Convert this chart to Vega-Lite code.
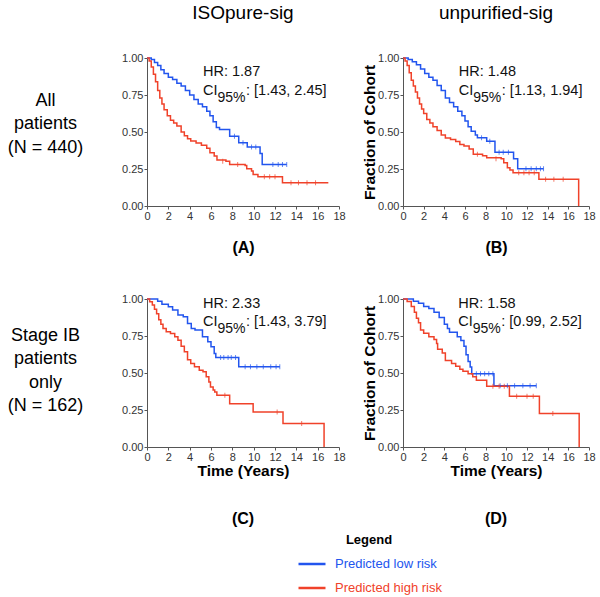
{
  "$schema": "https://vega.github.io/schema/vega-lite/v6.json",
  "background": "white",
  "padding": {"left": 7, "top": 4, "right": 5, "bottom": 5},
  "config": {
    "font": "Liberation Sans",
    "view": {"stroke": null},
    "axis": {"grid": false, "domainColor": "#555", "tickColor": "#555", "labelColor": "#333", "labelFontSize": 11, "tickSize": 3, "labelPadding": 1, "labelOverlap": false, "labelSeparation": 0, "labelFlush": false, "titleColor": "#000", "labelFont": "Liberation Sans", "titleFont": "Liberation Sans"},
    "title": {"font": "Liberation Sans", "color": "#000"},
    "legend": {"labelFont": "Liberation Sans", "titleFont": "Liberation Sans"}
  },
  "datasets": {
    "kmA": [
      {"g":"Predicted low risk","t":0,"s":1},{"g":"Predicted low risk","t":0.4,"s":0.99},{"g":"Predicted low risk","t":0.7,"s":0.97},{"g":"Predicted low risk","t":1.0,"s":0.95},{"g":"Predicted low risk","t":1.3,"s":0.92},{"g":"Predicted low risk","t":1.6,"s":0.895},{"g":"Predicted low risk","t":2.0,"s":0.87},{"g":"Predicted low risk","t":2.4,"s":0.855},{"g":"Predicted low risk","t":2.8,"s":0.83},{"g":"Predicted low risk","t":3.2,"s":0.81},{"g":"Predicted low risk","t":3.6,"s":0.78},{"g":"Predicted low risk","t":4.0,"s":0.75},{"g":"Predicted low risk","t":4.4,"s":0.72},{"g":"Predicted low risk","t":4.8,"s":0.69},{"g":"Predicted low risk","t":5.2,"s":0.67},{"g":"Predicted low risk","t":5.6,"s":0.64},{"g":"Predicted low risk","t":5.9,"s":0.61},{"g":"Predicted low risk","t":6.2,"s":0.57},{"g":"Predicted low risk","t":6.5,"s":0.53},{"g":"Predicted low risk","t":6.8,"s":0.517},{"g":"Predicted low risk","t":7.75,"s":0.472},{"g":"Predicted low risk","t":8.6,"s":0.427},{"g":"Predicted low risk","t":9.4,"s":0.398},{"g":"Predicted low risk","t":10.6,"s":0.355},{"g":"Predicted low risk","t":10.8,"s":0.281},{"g":"Predicted low risk","t":13.1,"s":0.281},
      {"g":"Predicted high risk","t":0,"s":1},{"g":"Predicted high risk","t":0.2,"s":0.98},{"g":"Predicted high risk","t":0.4,"s":0.94},{"g":"Predicted high risk","t":0.6,"s":0.89},{"g":"Predicted high risk","t":0.8,"s":0.84},{"g":"Predicted high risk","t":1.0,"s":0.78},{"g":"Predicted high risk","t":1.2,"s":0.73},{"g":"Predicted high risk","t":1.4,"s":0.69},{"g":"Predicted high risk","t":1.6,"s":0.65},{"g":"Predicted high risk","t":1.9,"s":0.61},{"g":"Predicted high risk","t":2.2,"s":0.58},{"g":"Predicted high risk","t":2.5,"s":0.56},{"g":"Predicted high risk","t":2.8,"s":0.54},{"g":"Predicted high risk","t":3.2,"s":0.5},{"g":"Predicted high risk","t":3.5,"s":0.475},{"g":"Predicted high risk","t":3.8,"s":0.455},{"g":"Predicted high risk","t":4.1,"s":0.44},{"g":"Predicted high risk","t":4.6,"s":0.425},{"g":"Predicted high risk","t":5.1,"s":0.41},{"g":"Predicted high risk","t":5.6,"s":0.39},{"g":"Predicted high risk","t":5.9,"s":0.36},{"g":"Predicted high risk","t":6.3,"s":0.337},{"g":"Predicted high risk","t":6.56,"s":0.31},{"g":"Predicted high risk","t":7.4,"s":0.303},{"g":"Predicted high risk","t":7.75,"s":0.281},{"g":"Predicted high risk","t":9.2,"s":0.274},{"g":"Predicted high risk","t":9.35,"s":0.252},{"g":"Predicted high risk","t":9.8,"s":0.236},{"g":"Predicted high risk","t":9.95,"s":0.213},{"g":"Predicted high risk","t":10.4,"s":0.198},{"g":"Predicted high risk","t":12.7,"s":0.157},{"g":"Predicted high risk","t":17,"s":0.157}
    ],
    "cenA": [
      {"g":"Predicted low risk","t":8.2,"s":0.472},{"g":"Predicted low risk","t":9.0,"s":0.427},{"g":"Predicted low risk","t":9.8,"s":0.398},{"g":"Predicted low risk","t":10.2,"s":0.398},{"g":"Predicted low risk","t":11.8,"s":0.281},{"g":"Predicted low risk","t":12.3,"s":0.281},{"g":"Predicted low risk","t":12.7,"s":0.281},{"g":"Predicted low risk","t":13.1,"s":0.281},
      {"g":"Predicted high risk","t":7.1,"s":0.303},{"g":"Predicted high risk","t":8.5,"s":0.281},{"g":"Predicted high risk","t":11.0,"s":0.198},{"g":"Predicted high risk","t":11.5,"s":0.198},{"g":"Predicted high risk","t":12.0,"s":0.198},{"g":"Predicted high risk","t":13.5,"s":0.157},{"g":"Predicted high risk","t":14.2,"s":0.157},{"g":"Predicted high risk","t":15.0,"s":0.157},{"g":"Predicted high risk","t":15.8,"s":0.157}
    ],
    "annA": [
      {"k":"hr","t":5.25,"s":0.876,"txt":"HR: 1.87"},{"k":"ci","t":5.25,"s":0.753,"txt":"CI"},{"k":"sub","t":5.25,"s":0.706,"txt":"95%"},{"k":"rest","t":5.25,"s":0.753,"txt":": [1.43, 2.45]"}
    ],
    "kmB": [
      {"g":"Predicted low risk","t":0,"s":1},{"g":"Predicted low risk","t":0.5,"s":0.99},{"g":"Predicted low risk","t":0.9,"s":0.975},{"g":"Predicted low risk","t":1.3,"s":0.955},{"g":"Predicted low risk","t":1.7,"s":0.925},{"g":"Predicted low risk","t":2.1,"s":0.895},{"g":"Predicted low risk","t":2.5,"s":0.87},{"g":"Predicted low risk","t":2.9,"s":0.85},{"g":"Predicted low risk","t":3.3,"s":0.815},{"g":"Predicted low risk","t":3.7,"s":0.78},{"g":"Predicted low risk","t":4.1,"s":0.73},{"g":"Predicted low risk","t":4.5,"s":0.7},{"g":"Predicted low risk","t":4.9,"s":0.67},{"g":"Predicted low risk","t":5.3,"s":0.64},{"g":"Predicted low risk","t":5.7,"s":0.61},{"g":"Predicted low risk","t":6.0,"s":0.575},{"g":"Predicted low risk","t":6.3,"s":0.535},{"g":"Predicted low risk","t":6.6,"s":0.505},{"g":"Predicted low risk","t":7.0,"s":0.48},{"g":"Predicted low risk","t":7.2,"s":0.461},{"g":"Predicted low risk","t":8.1,"s":0.438},{"g":"Predicted low risk","t":8.9,"s":0.364},{"g":"Predicted low risk","t":10.7,"s":0.319},{"g":"Predicted low risk","t":11.1,"s":0.252},{"g":"Predicted low risk","t":13.6,"s":0.252},
      {"g":"Predicted high risk","t":0,"s":1},{"g":"Predicted high risk","t":0.2,"s":0.98},{"g":"Predicted high risk","t":0.4,"s":0.95},{"g":"Predicted high risk","t":0.6,"s":0.9},{"g":"Predicted high risk","t":0.8,"s":0.85},{"g":"Predicted high risk","t":1.0,"s":0.81},{"g":"Predicted high risk","t":1.2,"s":0.77},{"g":"Predicted high risk","t":1.4,"s":0.73},{"g":"Predicted high risk","t":1.6,"s":0.69},{"g":"Predicted high risk","t":1.8,"s":0.655},{"g":"Predicted high risk","t":2.0,"s":0.625},{"g":"Predicted high risk","t":2.3,"s":0.585},{"g":"Predicted high risk","t":2.6,"s":0.56},{"g":"Predicted high risk","t":2.9,"s":0.535},{"g":"Predicted high risk","t":3.3,"s":0.51},{"g":"Predicted high risk","t":3.7,"s":0.48},{"g":"Predicted high risk","t":4.1,"s":0.46},{"g":"Predicted high risk","t":4.6,"s":0.45},{"g":"Predicted high risk","t":5.1,"s":0.435},{"g":"Predicted high risk","t":5.5,"s":0.415},{"g":"Predicted high risk","t":5.9,"s":0.405},{"g":"Predicted high risk","t":6.4,"s":0.385},{"g":"Predicted high risk","t":6.8,"s":0.35},{"g":"Predicted high risk","t":7.7,"s":0.34},{"g":"Predicted high risk","t":8.1,"s":0.326},{"g":"Predicted high risk","t":9.5,"s":0.319},{"g":"Predicted high risk","t":9.75,"s":0.292},{"g":"Predicted high risk","t":10.1,"s":0.258},{"g":"Predicted high risk","t":10.35,"s":0.243},{"g":"Predicted high risk","t":10.65,"s":0.225},{"g":"Predicted high risk","t":13.15,"s":0.18},{"g":"Predicted high risk","t":17,"s":0}
    ],
    "cenB": [
      {"g":"Predicted low risk","t":7.6,"s":0.461},{"g":"Predicted low risk","t":8.4,"s":0.438},{"g":"Predicted low risk","t":9.3,"s":0.364},{"g":"Predicted low risk","t":9.7,"s":0.364},{"g":"Predicted low risk","t":10.2,"s":0.364},{"g":"Predicted low risk","t":11.9,"s":0.252},{"g":"Predicted low risk","t":12.4,"s":0.252},{"g":"Predicted low risk","t":12.9,"s":0.252},{"g":"Predicted low risk","t":13.3,"s":0.252},{"g":"Predicted low risk","t":13.6,"s":0.252},
      {"g":"Predicted high risk","t":7.2,"s":0.35},{"g":"Predicted high risk","t":9.0,"s":0.319},{"g":"Predicted high risk","t":11.2,"s":0.225},{"g":"Predicted high risk","t":11.7,"s":0.225},{"g":"Predicted high risk","t":12.2,"s":0.225},{"g":"Predicted high risk","t":12.7,"s":0.225},{"g":"Predicted high risk","t":13.8,"s":0.18},{"g":"Predicted high risk","t":14.6,"s":0.18},{"g":"Predicted high risk","t":15.5,"s":0.18}
    ],
    "annB": [
      {"k":"hr","t":5.4,"s":0.876,"txt":"HR: 1.48"},{"k":"ci","t":5.4,"s":0.753,"txt":"CI"},{"k":"sub","t":5.4,"s":0.706,"txt":"95%"},{"k":"rest","t":5.4,"s":0.753,"txt":": [1.13, 1.94]"}
    ],
    "kmC": [
      {"g":"Predicted low risk","t":0,"s":1},{"g":"Predicted low risk","t":1.0,"s":0.985},{"g":"Predicted low risk","t":1.4,"s":0.965},{"g":"Predicted low risk","t":2.0,"s":0.948},{"g":"Predicted low risk","t":2.4,"s":0.926},{"g":"Predicted low risk","t":2.9,"s":0.892},{"g":"Predicted low risk","t":3.4,"s":0.88},{"g":"Predicted low risk","t":3.8,"s":0.835},{"g":"Predicted low risk","t":4.15,"s":0.8},{"g":"Predicted low risk","t":4.5,"s":0.79},{"g":"Predicted low risk","t":5.2,"s":0.745},{"g":"Predicted low risk","t":5.7,"s":0.711},{"g":"Predicted low risk","t":6.0,"s":0.677},{"g":"Predicted low risk","t":6.3,"s":0.632},{"g":"Predicted low risk","t":6.45,"s":0.605},{"g":"Predicted low risk","t":8.6,"s":0.542},{"g":"Predicted low risk","t":12.45,"s":0.542},
      {"g":"Predicted high risk","t":0,"s":1},{"g":"Predicted high risk","t":0.25,"s":0.982},{"g":"Predicted high risk","t":0.5,"s":0.96},{"g":"Predicted high risk","t":0.7,"s":0.93},{"g":"Predicted high risk","t":0.9,"s":0.9},{"g":"Predicted high risk","t":1.1,"s":0.86},{"g":"Predicted high risk","t":1.3,"s":0.83},{"g":"Predicted high risk","t":1.5,"s":0.8},{"g":"Predicted high risk","t":1.8,"s":0.778},{"g":"Predicted high risk","t":2.2,"s":0.767},{"g":"Predicted high risk","t":2.6,"s":0.745},{"g":"Predicted high risk","t":2.9,"s":0.722},{"g":"Predicted high risk","t":3.2,"s":0.68},{"g":"Predicted high risk","t":3.5,"s":0.643},{"g":"Predicted high risk","t":3.8,"s":0.59},{"g":"Predicted high risk","t":4.1,"s":0.564},{"g":"Predicted high risk","t":4.45,"s":0.542},{"g":"Predicted high risk","t":4.9,"s":0.519},{"g":"Predicted high risk","t":5.25,"s":0.508},{"g":"Predicted high risk","t":5.55,"s":0.474},{"g":"Predicted high risk","t":5.8,"s":0.44},{"g":"Predicted high risk","t":5.95,"s":0.406},{"g":"Predicted high risk","t":6.2,"s":0.385},{"g":"Predicted high risk","t":6.35,"s":0.372},{"g":"Predicted high risk","t":6.55,"s":0.35},{"g":"Predicted high risk","t":7.75,"s":0.293},{"g":"Predicted high risk","t":9.95,"s":0.237},{"g":"Predicted high risk","t":12.75,"s":0.158},{"g":"Predicted high risk","t":16.6,"s":0}
    ],
    "cenC": [
      {"g":"Predicted low risk","t":6.9,"s":0.605},{"g":"Predicted low risk","t":7.2,"s":0.605},{"g":"Predicted low risk","t":7.6,"s":0.605},{"g":"Predicted low risk","t":7.9,"s":0.605},{"g":"Predicted low risk","t":8.3,"s":0.605},{"g":"Predicted low risk","t":9.2,"s":0.542},{"g":"Predicted low risk","t":9.7,"s":0.542},{"g":"Predicted low risk","t":10.3,"s":0.542},{"g":"Predicted low risk","t":10.9,"s":0.542},{"g":"Predicted low risk","t":11.6,"s":0.542},{"g":"Predicted low risk","t":12.1,"s":0.542},{"g":"Predicted low risk","t":12.45,"s":0.542},
      {"g":"Predicted high risk","t":7.3,"s":0.35},{"g":"Predicted high risk","t":12.2,"s":0.237},{"g":"Predicted high risk","t":14.5,"s":0.158}
    ],
    "annC": [
      {"k":"hr","t":5.25,"s":0.937,"txt":"HR: 2.33"},{"k":"ci","t":5.25,"s":0.817,"txt":"CI"},{"k":"sub","t":5.25,"s":0.772,"txt":"95%"},{"k":"rest","t":5.25,"s":0.817,"txt":": [1.43, 3.79]"}
    ],
    "kmD": [
      {"g":"Predicted low risk","t":0,"s":1},{"g":"Predicted low risk","t":1.0,"s":0.985},{"g":"Predicted low risk","t":1.5,"s":0.972},{"g":"Predicted low risk","t":2.0,"s":0.95},{"g":"Predicted low risk","t":2.5,"s":0.935},{"g":"Predicted low risk","t":3.0,"s":0.91},{"g":"Predicted low risk","t":3.5,"s":0.875},{"g":"Predicted low risk","t":4.0,"s":0.83},{"g":"Predicted low risk","t":4.3,"s":0.8},{"g":"Predicted low risk","t":4.5,"s":0.775},{"g":"Predicted low risk","t":5.25,"s":0.745},{"g":"Predicted low risk","t":5.6,"s":0.72},{"g":"Predicted low risk","t":5.9,"s":0.68},{"g":"Predicted low risk","t":6.1,"s":0.623},{"g":"Predicted low risk","t":6.3,"s":0.578},{"g":"Predicted low risk","t":6.5,"s":0.54},{"g":"Predicted low risk","t":6.65,"s":0.495},{"g":"Predicted low risk","t":8.8,"s":0.414},{"g":"Predicted low risk","t":12.9,"s":0.414},
      {"g":"Predicted high risk","t":0,"s":1},{"g":"Predicted high risk","t":0.4,"s":0.983},{"g":"Predicted high risk","t":0.8,"s":0.95},{"g":"Predicted high risk","t":1.1,"s":0.91},{"g":"Predicted high risk","t":1.3,"s":0.87},{"g":"Predicted high risk","t":1.5,"s":0.84},{"g":"Predicted high risk","t":1.7,"s":0.79},{"g":"Predicted high risk","t":2.0,"s":0.768},{"g":"Predicted high risk","t":2.5,"s":0.745},{"g":"Predicted high risk","t":3.0,"s":0.727},{"g":"Predicted high risk","t":3.25,"s":0.7},{"g":"Predicted high risk","t":3.35,"s":0.66},{"g":"Predicted high risk","t":3.8,"s":0.635},{"g":"Predicted high risk","t":4.1,"s":0.585},{"g":"Predicted high risk","t":4.7,"s":0.565},{"g":"Predicted high risk","t":5.1,"s":0.545},{"g":"Predicted high risk","t":5.5,"s":0.525},{"g":"Predicted high risk","t":5.8,"s":0.512},{"g":"Predicted high risk","t":6.3,"s":0.495},{"g":"Predicted high risk","t":6.75,"s":0.475},{"g":"Predicted high risk","t":7.1,"s":0.451},{"g":"Predicted high risk","t":8.1,"s":0.411},{"g":"Predicted high risk","t":10.3,"s":0.343},{"g":"Predicted high risk","t":13.2,"s":0.226},{"g":"Predicted high risk","t":17.05,"s":0}
    ],
    "cenD": [
      {"g":"Predicted low risk","t":7.1,"s":0.495},{"g":"Predicted low risk","t":7.5,"s":0.495},{"g":"Predicted low risk","t":7.9,"s":0.495},{"g":"Predicted low risk","t":8.3,"s":0.495},{"g":"Predicted low risk","t":8.7,"s":0.495},{"g":"Predicted low risk","t":9.4,"s":0.414},{"g":"Predicted low risk","t":10.1,"s":0.414},{"g":"Predicted low risk","t":10.8,"s":0.414},{"g":"Predicted low risk","t":11.6,"s":0.414},{"g":"Predicted low risk","t":12.3,"s":0.414},{"g":"Predicted low risk","t":12.9,"s":0.414},
      {"g":"Predicted high risk","t":8.7,"s":0.411},{"g":"Predicted high risk","t":9.3,"s":0.411},{"g":"Predicted high risk","t":9.8,"s":0.411},{"g":"Predicted high risk","t":11.0,"s":0.343},{"g":"Predicted high risk","t":12.0,"s":0.343},{"g":"Predicted high risk","t":12.6,"s":0.343},{"g":"Predicted high risk","t":14.5,"s":0.226}
    ],
    "annD": [
      {"k":"hr","t":5.35,"s":0.937,"txt":"HR: 1.58"},{"k":"ci","t":5.35,"s":0.817,"txt":"CI"},{"k":"sub","t":5.35,"s":0.772,"txt":"95%"},{"k":"rest","t":5.35,"s":0.817,"txt":": [0.99, 2.52]"}
    ]
  },
  "columns": 2,
  "spacing": {"row": 93, "column": 64},
  "bounds": "flush",
  "concat": [
    {
      "width": 192, "height": 148,
      "title": {"text": "ISOpure-sig", "orient": "top", "anchor": "middle", "frame": "group", "fontSize": 19, "fontWeight": "normal", "offset": 29},
      "layer": [
        {"data": {"name": "kmA"}, "mark": {"type": "line", "interpolate": "step-after", "strokeWidth": 1.5},
         "encoding": {
           "x": {"field": "t", "type": "quantitative", "scale": {"domain": [0, 18], "nice": false}, "axis": {"values": [0,2,4,6,8,10,12,14,16,18], "tickCount": 10, "labelOverlap": false, "title": "(A)", "titleFontSize": 16, "titleFontWeight": "bold", "titlePadding": 18}},
           "y": {"field": "s", "type": "quantitative", "scale": {"domain": [0, 1], "nice": false}, "axis": {"values": [0,0.25,0.5,0.75,1], "tickCount": 5, "labelOverlap": false, "format": ".2f", "title": ["All", "patients", "(N = 440)"], "titleAngle": 0, "titleFontSize": 18, "titleFontWeight": "normal", "titleAlign": "center", "titleBaseline": "middle", "titleX": -102, "titleY": 42, "titleLineHeight": 23.5}},
           "color": {"field": "g", "type": "nominal", "scale": {"domain": ["Predicted low risk", "Predicted high risk"], "range": ["#2255ee", "#f0422a"]},
             "legend": {"title": "Legend", "orient": "none", "legendX": 150, "legendY": 476, "direction": "vertical", "symbolType": "stroke", "symbolSize": 729, "symbolStrokeWidth": 2.5, "labelFontSize": 13, "labelOffset": 8, "titleFontSize": 13, "titleFontWeight": "bold", "titleAnchor": "middle", "titleAlign": "center", "titlePadding": 2, "rowPadding": 2, "labelLimit": 300,
               "encode": {"labels": {"update": {"fill": {"signal": "datum.value === 'Predicted low risk' ? '#2255ee' : '#f0422a'"}}}}}}
         }},
        {"data": {"name": "cenA"}, "mark": {"type": "tick", "orient": "vertical", "size": 5, "thickness": 1},
         "encoding": {"x": {"field": "t", "type": "quantitative"}, "y": {"field": "s", "type": "quantitative"}, "color": {"field": "g", "type": "nominal"}}},
        {"data": {"name": "annA"}, "transform": [{"filter": "datum.k == 'hr' || datum.k == 'ci'"}], "mark": {"type": "text", "align": "left", "baseline": "alphabetic", "fontSize": 14.5, "color": "#111"},
         "encoding": {"x": {"field": "t", "type": "quantitative"}, "y": {"field": "s", "type": "quantitative"}, "text": {"field": "txt"}}},
        {"data": {"name": "annA"}, "transform": [{"filter": "datum.k == 'sub'"}], "mark": {"type": "text", "align": "left", "baseline": "alphabetic", "fontSize": 14, "dx": 14.5, "color": "#111"},
         "encoding": {"x": {"field": "t", "type": "quantitative"}, "y": {"field": "s", "type": "quantitative"}, "text": {"field": "txt"}}},
        {"data": {"name": "annA"}, "transform": [{"filter": "datum.k == 'rest'"}], "mark": {"type": "text", "align": "left", "baseline": "alphabetic", "fontSize": 14.5, "dx": 43, "color": "#111"},
         "encoding": {"x": {"field": "t", "type": "quantitative"}, "y": {"field": "s", "type": "quantitative"}, "text": {"field": "txt"}}}
      ]
    },
    {
      "width": 186, "height": 148,
      "title": {"text": "unpurified-sig", "orient": "top", "anchor": "middle", "frame": "group", "fontSize": 19, "fontWeight": "normal", "offset": 29},
      "layer": [
        {"data": {"name": "kmB"}, "mark": {"type": "line", "interpolate": "step-after", "strokeWidth": 1.5},
         "encoding": {
           "x": {"field": "t", "type": "quantitative", "scale": {"domain": [0, 18], "nice": false}, "axis": {"values": [0,2,4,6,8,10,12,14,16,18], "tickCount": 10, "labelOverlap": false, "title": "(B)", "titleFontSize": 16, "titleFontWeight": "bold", "titlePadding": 18}},
           "y": {"field": "s", "type": "quantitative", "scale": {"domain": [0, 1], "nice": false}, "axis": {"values": [0,0.25,0.5,0.75,1], "tickCount": 5, "labelOverlap": false, "format": ".2f", "title": "Fraction of Cohort", "titleFontSize": 15.5, "titleFontWeight": "bold", "titlePadding": 0}},
           "color": {"field": "g", "type": "nominal"}
         }},
        {"data": {"name": "cenB"}, "mark": {"type": "tick", "orient": "vertical", "size": 5, "thickness": 1},
         "encoding": {"x": {"field": "t", "type": "quantitative"}, "y": {"field": "s", "type": "quantitative"}, "color": {"field": "g", "type": "nominal"}}},
        {"data": {"name": "annB"}, "transform": [{"filter": "datum.k == 'hr' || datum.k == 'ci'"}], "mark": {"type": "text", "align": "left", "baseline": "alphabetic", "fontSize": 14.5, "color": "#111"},
         "encoding": {"x": {"field": "t", "type": "quantitative"}, "y": {"field": "s", "type": "quantitative"}, "text": {"field": "txt"}}},
        {"data": {"name": "annB"}, "transform": [{"filter": "datum.k == 'sub'"}], "mark": {"type": "text", "align": "left", "baseline": "alphabetic", "fontSize": 14, "dx": 14.5, "color": "#111"},
         "encoding": {"x": {"field": "t", "type": "quantitative"}, "y": {"field": "s", "type": "quantitative"}, "text": {"field": "txt"}}},
        {"data": {"name": "annB"}, "transform": [{"filter": "datum.k == 'rest'"}], "mark": {"type": "text", "align": "left", "baseline": "alphabetic", "fontSize": 14.5, "dx": 43, "color": "#111"},
         "encoding": {"x": {"field": "t", "type": "quantitative"}, "y": {"field": "s", "type": "quantitative"}, "text": {"field": "txt"}}}
      ]
    },
    {
      "width": 192, "height": 148,
      "title": {"text": "(C)", "orient": "bottom", "anchor": "middle", "frame": "group", "fontSize": 16, "fontWeight": "bold", "offset": 32},
      "layer": [
        {"data": {"name": "kmC"}, "mark": {"type": "line", "interpolate": "step-after", "strokeWidth": 1.5},
         "encoding": {
           "x": {"field": "t", "type": "quantitative", "scale": {"domain": [0, 18], "nice": false}, "axis": {"values": [0,2,4,6,8,10,12,14,16,18], "tickCount": 10, "labelOverlap": false, "title": "Time (Years)", "titleFontSize": 15.5, "titleFontWeight": "bold", "titlePadding": 1}},
           "y": {"field": "s", "type": "quantitative", "scale": {"domain": [0, 1], "nice": false}, "axis": {"values": [0,0.25,0.5,0.75,1], "tickCount": 5, "labelOverlap": false, "format": ".2f", "title": ["Stage IB", "patients", "only", "(N = 162)"], "titleAngle": 0, "titleFontSize": 18, "titleFontWeight": "normal", "titleAlign": "center", "titleBaseline": "middle", "titleX": -102, "titleY": 36, "titleLineHeight": 23.5}},
           "color": {"field": "g", "type": "nominal"}
         }},
        {"data": {"name": "cenC"}, "mark": {"type": "tick", "orient": "vertical", "size": 5, "thickness": 1},
         "encoding": {"x": {"field": "t", "type": "quantitative"}, "y": {"field": "s", "type": "quantitative"}, "color": {"field": "g", "type": "nominal"}}},
        {"data": {"name": "annC"}, "transform": [{"filter": "datum.k == 'hr' || datum.k == 'ci'"}], "mark": {"type": "text", "align": "left", "baseline": "alphabetic", "fontSize": 14.5, "color": "#111"},
         "encoding": {"x": {"field": "t", "type": "quantitative"}, "y": {"field": "s", "type": "quantitative"}, "text": {"field": "txt"}}},
        {"data": {"name": "annC"}, "transform": [{"filter": "datum.k == 'sub'"}], "mark": {"type": "text", "align": "left", "baseline": "alphabetic", "fontSize": 14, "dx": 14.5, "color": "#111"},
         "encoding": {"x": {"field": "t", "type": "quantitative"}, "y": {"field": "s", "type": "quantitative"}, "text": {"field": "txt"}}},
        {"data": {"name": "annC"}, "transform": [{"filter": "datum.k == 'rest'"}], "mark": {"type": "text", "align": "left", "baseline": "alphabetic", "fontSize": 14.5, "dx": 43, "color": "#111"},
         "encoding": {"x": {"field": "t", "type": "quantitative"}, "y": {"field": "s", "type": "quantitative"}, "text": {"field": "txt"}}}
      ]
    },
    {
      "width": 186, "height": 148,
      "title": {"text": "(D)", "orient": "bottom", "anchor": "middle", "frame": "group", "fontSize": 16, "fontWeight": "bold", "offset": 32},
      "layer": [
        {"data": {"name": "kmD"}, "mark": {"type": "line", "interpolate": "step-after", "strokeWidth": 1.5},
         "encoding": {
           "x": {"field": "t", "type": "quantitative", "scale": {"domain": [0, 18], "nice": false}, "axis": {"values": [0,2,4,6,8,10,12,14,16,18], "tickCount": 10, "labelOverlap": false, "title": "Time (Years)", "titleFontSize": 15.5, "titleFontWeight": "bold", "titlePadding": 1}},
           "y": {"field": "s", "type": "quantitative", "scale": {"domain": [0, 1], "nice": false}, "axis": {"values": [0,0.25,0.5,0.75,1], "tickCount": 5, "labelOverlap": false, "format": ".2f", "title": "Fraction of Cohort", "titleFontSize": 15.5, "titleFontWeight": "bold", "titlePadding": 0}},
           "color": {"field": "g", "type": "nominal"}
         }},
        {"data": {"name": "cenD"}, "mark": {"type": "tick", "orient": "vertical", "size": 5, "thickness": 1},
         "encoding": {"x": {"field": "t", "type": "quantitative"}, "y": {"field": "s", "type": "quantitative"}, "color": {"field": "g", "type": "nominal"}}},
        {"data": {"name": "annD"}, "transform": [{"filter": "datum.k == 'hr' || datum.k == 'ci'"}], "mark": {"type": "text", "align": "left", "baseline": "alphabetic", "fontSize": 14.5, "color": "#111"},
         "encoding": {"x": {"field": "t", "type": "quantitative"}, "y": {"field": "s", "type": "quantitative"}, "text": {"field": "txt"}}},
        {"data": {"name": "annD"}, "transform": [{"filter": "datum.k == 'sub'"}], "mark": {"type": "text", "align": "left", "baseline": "alphabetic", "fontSize": 14, "dx": 14.5, "color": "#111"},
         "encoding": {"x": {"field": "t", "type": "quantitative"}, "y": {"field": "s", "type": "quantitative"}, "text": {"field": "txt"}}},
        {"data": {"name": "annD"}, "transform": [{"filter": "datum.k == 'rest'"}], "mark": {"type": "text", "align": "left", "baseline": "alphabetic", "fontSize": 14.5, "dx": 43, "color": "#111"},
         "encoding": {"x": {"field": "t", "type": "quantitative"}, "y": {"field": "s", "type": "quantitative"}, "text": {"field": "txt"}}}
      ]
    }
  ]
}
